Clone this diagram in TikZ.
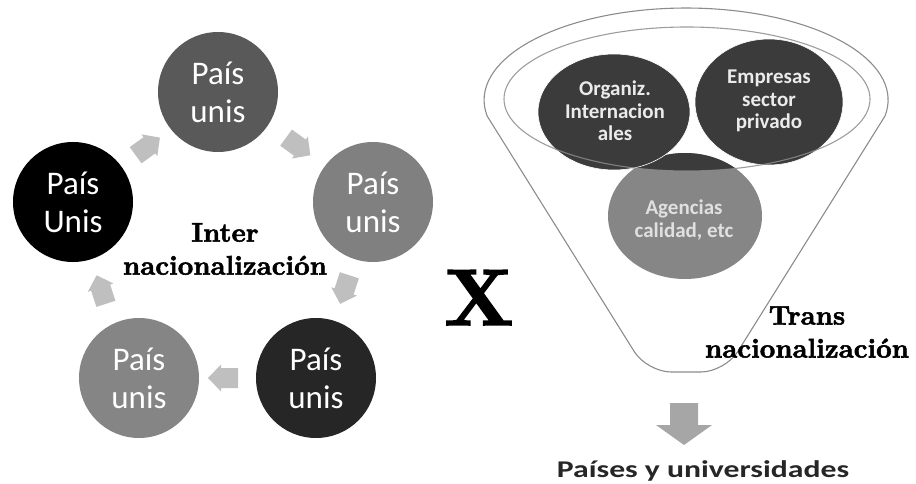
\documentclass[tikz,border=0pt]{standalone}
\usepackage{fontspec}
\newfontfamily\calfont{Carlito}
\newfontfamily\heavyserif{lmroman10-bold.otf}[FakeBold=2]
\usetikzlibrary{shapes.geometric}

\definecolor{cyctop}{HTML}{595959}
\definecolor{cycright}{HTML}{808080}
\definecolor{cycbr}{HTML}{262626}
\definecolor{cycbl}{HTML}{858585}
\definecolor{cycleft}{HTML}{000000}
\definecolor{arrowgray}{HTML}{BFBFBF}
\definecolor{downgray}{HTML}{A6A6A6}
\definecolor{darkblob}{HTML}{3B3B3B}
\definecolor{midblob}{HTML}{868686}
\definecolor{funnelline}{HTML}{8C8C8C}
\definecolor{captiongray}{HTML}{262626}

\begin{document}
\begin{tikzpicture}[x=1pt,y=-1pt,
  cyc/.style={circle, minimum size=120pt, inner sep=0pt, text=white, align=center,
    font=\calfont\fontsize{33}{38}\selectfont},
  blob/.style={ellipse, inner sep=0pt},
  blobtext/.style={align=center, font=\calfont\bfseries\fontsize{21}{22.5}\selectfont},
  serifbig/.style={align=center, font=\heavyserif\fontsize{27}{33}\selectfont},
  outline/.style={draw=funnelline, line width=1.1pt},
  % block arrow pointing along +x, centred on the origin
  blockarrow/.pic={
    \fill[arrowgray] (-15,-10) -- (2,-10) -- (2,-13.5) -- (15,0) -- (2,13.5)
      -- (2,10) -- (-15,10) -- cycle;
  }
]
\useasboundingbox (0,0) rectangle (916,484);

% ---- cycle of countries / universities ----
\node[cyc, fill=cyctop]   (ctop)   at (218,92)  {País\\unis};
\node[cyc, fill=cycright] (cright) at (373,202) {País\\unis};
\node[cyc, fill=cycbr]    (cbr)    at (316,378) {País\\unis};
\node[cyc, fill=cycbl]    (cbl)    at (139,378) {País\\unis};
\node[cyc, fill=cycleft]  (cleft)  at (73,202)  {País\\Unis};

% block arrows between the circles, clockwise
\foreach \a in {126, 54, -18, -90, 198}{
  \pic[rotate=\a-90] at ({223+128*cos(\a)},{250-128*sin(\a)}) {blockarrow};
}

\node[serifbig] (inter) at (225,249) {Inter\\nacionalización};

% ---- the big X ----
\node[font=\heavyserif\fontsize{80}{80}\selectfont, anchor=base] (xmark) at (479,325) {X};

% ---- funnel ----
\draw[outline] (885,116) arc[start angle=10, end angle=-190, x radius=202, y radius=92]
  {[rounded corners=24pt] -- (647,372) -- (725,372) -- (885,116)};

% lower circle: grey, darker where it enters the funnel mouth
\node[blob, fill=midblob, minimum width=154pt, minimum height=126pt] (agen) at (685,216) {};
\begin{scope}
  \clip (687,99) ellipse[x radius=183, y radius=72];
  \fill[darkblob] (685,216) ellipse[x radius=77, y radius=63];
\end{scope}
\node[blob, fill=darkblob, draw=white, line width=0.6pt,
      minimum width=152pt, minimum height=116pt] (org) at (614,112) {};
\node[blob, fill=darkblob, draw=white, line width=0.6pt,
      minimum width=148pt, minimum height=126pt] (emp) at (769,102) {};

% funnel mouth
\draw[outline, draw opacity=0.85] (687,99) ellipse[x radius=183, y radius=72];

\node[blobtext, text=white!92!black] (orgtxt) at (615,111) {Organiz.\\Internacion\\ales};
\node[blobtext, text=white!92!black] (emptxt) at (769,101) {Empresas\\sector\\privado};
\node[blobtext, text=white!88!black] (agentxt) at (684,220) {Agencias\\calidad, etc};

\node[serifbig] (trans) at (807,332) {Trans\\nacionalización};

% ---- outcome ----
\fill[downgray] (670,403) -- (698,403) -- (698,425) -- (712,425) -- (684,445)
  -- (656,425) -- (670,425) -- cycle;
\node[anchor=base, text=captiongray, font=\calfont\bfseries\fontsize{24}{30}\selectfont]
  (result) at (703,477) {\scalebox{1.32}[1]{Países y universidades}};

\end{tikzpicture}
\end{document}
